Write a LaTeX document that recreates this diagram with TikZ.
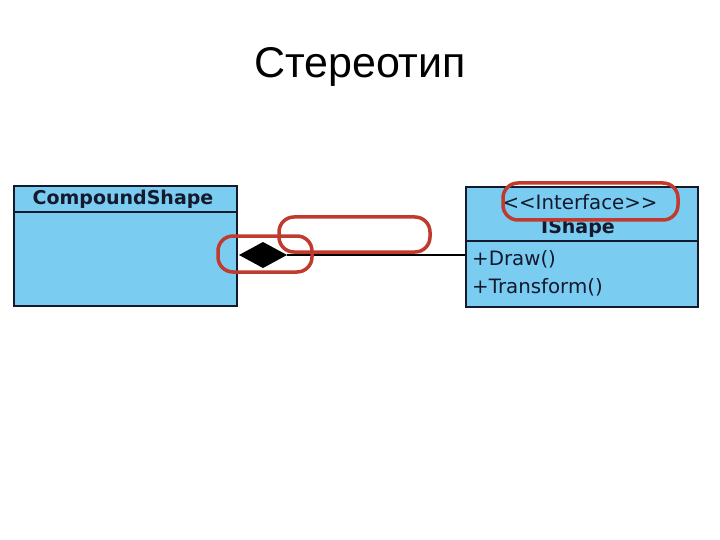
\documentclass[tikz,border=0pt]{standalone}
\usepackage{fontspec}
\setmainfont{Liberation Sans}
\newfontfamily\umlfont{DejaVu Sans}
\definecolor{umlblue}{RGB}{122,204,240}
\definecolor{umlline}{RGB}{20,25,45}
\definecolor{hlred}{RGB}{192,58,45}
\begin{document}
\begin{tikzpicture}[x=1pt,y=-1pt,
  classbox/.style={draw=umlline,fill=umlblue,line width=1.6pt},
  hilite/.style={draw=hlred,line width=3.5pt,rounded corners=15pt},
  umltext/.style={inner sep=0pt,font=\umlfont\fontsize{19.8}{22}\selectfont,text=umlline},
  umlbold/.style={umltext,font=\umlfont\bfseries\fontsize{19}{22}\selectfont}]
\useasboundingbox (0,0) rectangle (720,540);
\node[font=\fontsize{43}{48}\selectfont] (title) at (360,67) {Стереотип};
% CompoundShape
\draw[classbox] (14,186) rectangle (237,306);
\draw[umlline,line width=1.6pt] (14,212) -- (237,212);
\node[umlbold] (cs) at (123,199) {CompoundShape};
% IShape
\draw[classbox] (466,187) rectangle (698,307);
\draw[umlline,line width=1.6pt] (466,241) -- (698,241);
\node[umltext] (stereo) at (580,202) {<{}<Interface>{}>};
\node[umlbold] (ishape) at (578,228) {IShape};
\node[umltext,anchor=west] (draw) at (472,259) {+Draw()};
\node[umltext,anchor=west] (transform) at (472,287) {+Transform()};
\coordinate (isL) at (465,255);
% composition
\fill[black] (239,255) -- (263,242) -- (287,255) -- (263,268) -- cycle;
\coordinate (diaR) at (287,255);
\draw[black,line width=1.3pt] (diaR) -- (isL);
% highlights
\draw[hilite] (218,236) rectangle (312,272);
\draw[hilite] (279,217) rectangle (430,252);
\draw[hilite] (503,183) rectangle (678,220);
\end{tikzpicture}
\end{document}
